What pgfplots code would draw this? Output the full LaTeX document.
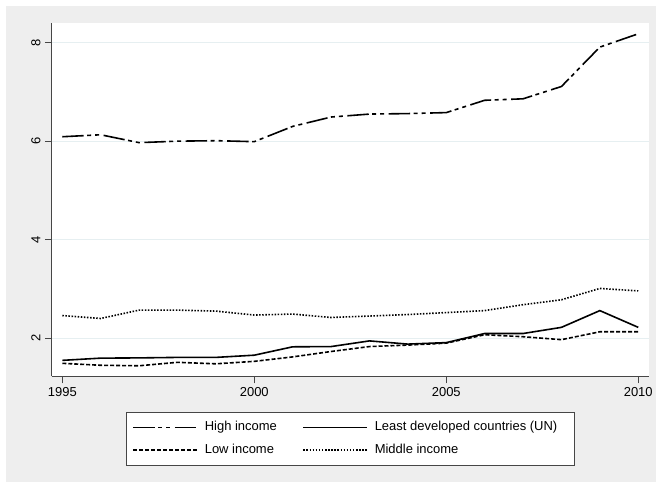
\documentclass[border=0pt]{standalone}
\usepackage{fontspec}
\setmainfont{Liberation Sans}
\usepackage{pgfplots}
\pgfplotsset{compat=1.18}
\definecolor{bggray}{RGB}{238,238,238}
\definecolor{gridc}{RGB}{230,239,241}
\definecolor{axc}{RGB}{70,70,70}
\begin{document}
\fontsize{13}{15}\selectfont
\begin{tikzpicture}
\fill[white] (0,0) rectangle (657pt,483pt);
\fill[bggray] (6pt,0) rectangle (657pt,477pt);
\begin{axis}[
  at={(52pt,106pt)}, anchor=south west,
  scale only axis, width=598pt, height=354pt,
  xmin=1994.73, xmax=2010.28, ymin=1.224, ymax=8.40,
  axis x line*=bottom, axis y line*=left,
  axis line style={axc, line width=0.9pt, -},
  axis background/.style={fill=white},
  xtick={1995,2000,2005,2010}, ytick={2,4,6,8},
  ymajorgrids, grid style={gridc, line width=1pt},
  tick align=outside, major tick length=7pt,
  tick style={axc, line width=0.9pt},
  /pgf/number format/assume math mode=true,
  xticklabel style={/pgf/number format/1000 sep={}, font=\fontsize{13}{15}\selectfont},
  yticklabel style={rotate=90, anchor=south, font=\fontsize{13}{15}\selectfont},
  legend columns=2,
  legend cell align=left,
  legend style={at={(0.5,-0.0997)}, anchor=north, draw=axc, line width=0.9pt, fill=white,
    inner xsep=6pt, inner ysep=9pt,
    font=\fontsize{13}{15}\selectfont,
    nodes={inner sep=0pt, text height=9.5pt, text depth=3pt},
    row sep=10.5pt,
    /tikz/every odd column/.append style={column sep=6.7pt},
    /tikz/every even column/.append style={column sep=25.7pt}},
  legend image code/.code={\draw[#1] (0pt,0pt) -- (64pt,0pt);},
]
\addplot[black, line width=1.6pt, dash pattern=on 21.5pt off 3.5pt on 4pt off 4pt on 4pt off 4.5pt] coordinates {
(1995,6.09) (1996,6.13) (1997,5.97) (1998,6.00) (1999,6.01) (2000,5.99) (2001,6.30) (2002,6.49)
(2003,6.55) (2004,6.56) (2005,6.58) (2006,6.83) (2007,6.86) (2008,7.11) (2009,7.91) (2010,8.18)};
\addlegendentry{High income}
\addplot[black, line width=1.6pt] coordinates {
(1995,1.55) (1996,1.595) (1997,1.60) (1998,1.61) (1999,1.61) (2000,1.655) (2001,1.825) (2002,1.83)
(2003,1.945) (2004,1.88) (2005,1.91) (2006,2.095) (2007,2.095) (2008,2.22) (2009,2.56) (2010,2.22)};
\addlegendentry{Least developed countries (UN)\hspace*{11pt}}
\addplot[black, line width=1.6pt, dash pattern=on 4pt off 2pt] coordinates {
(1995,1.49) (1996,1.45) (1997,1.44) (1998,1.51) (1999,1.48) (2000,1.53) (2001,1.62) (2002,1.73)
(2003,1.83) (2004,1.86) (2005,1.90) (2006,2.07) (2007,2.03) (2008,1.97) (2009,2.13) (2010,2.13)};
\addlegendentry{Low income}
\addplot[black, line width=1.6pt, dash pattern=on 1.5pt off 1.6pt] coordinates {
(1995,2.46) (1996,2.40) (1997,2.57) (1998,2.57) (1999,2.55) (2000,2.47) (2001,2.49) (2002,2.42)
(2003,2.45) (2004,2.48) (2005,2.52) (2006,2.56) (2007,2.68) (2008,2.78) (2009,3.01) (2010,2.96)};
\addlegendentry{Middle income}
\end{axis}
\end{tikzpicture}
\end{document}
